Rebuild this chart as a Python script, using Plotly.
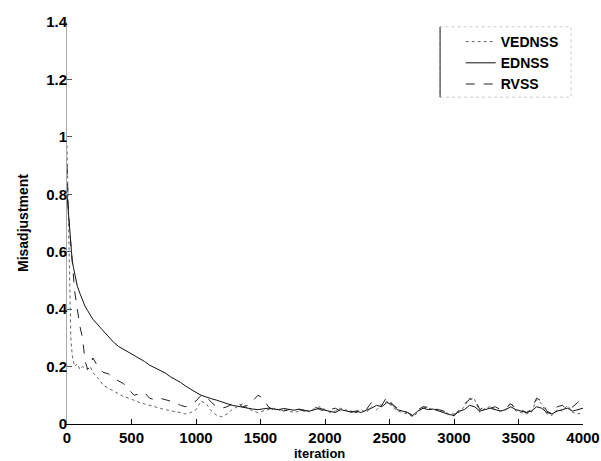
import plotly.graph_objects as go

# iteration index shared by all three learning curves
iterations = [0, 5, 10, 20, 30, 40, 50, 60, 80, 100, 120, 140, 160, 180,
              200, 240, 280, 320, 360, 400, 440, 480, 520, 560, 600, 640, 680, 720, 760, 800,
              840, 880, 920, 960, 1000, 1040, 1080, 1120, 1160, 1200, 1240, 1280, 1320, 1360,
              1400, 1440, 1480, 1520, 1560, 1600, 1640, 1680, 1720, 1760, 1800, 1840, 1880,
              1920, 1960, 2000, 2040, 2080, 2120, 2160, 2200, 2240, 2280, 2320, 2360, 2400,
              2440, 2480, 2520, 2560, 2600, 2640, 2680, 2720, 2760, 2800, 2840, 2880, 2920,
              2960, 3000, 3040, 3080, 3120, 3160, 3200, 3240, 3280, 3320, 3360, 3400, 3440,
              3480, 3520, 3560, 3600, 3640, 3680, 3720, 3760, 3800, 3840, 3880, 3920, 3960, 4000]

vednss = [0.97, 0.85, 0.70, 0.50, 0.30, 0.24, 0.22, 0.20, 0.21, 0.19, 0.20, 0.195, 0.19, 0.20,
          0.18, 0.16, 0.135, 0.125, 0.115, 0.105, 0.095, 0.09, 0.082, 0.075, 0.07, 0.065, 0.058,
          0.055, 0.05, 0.047, 0.042, 0.04, 0.035, 0.04, 0.05, 0.08, 0.07, 0.045, 0.03, 0.025,
          0.035, 0.05, 0.06, 0.07, 0.055, 0.045, 0.04, 0.045, 0.05, 0.055, 0.048, 0.05, 0.045,
          0.04, 0.045, 0.05, 0.042, 0.055, 0.06, 0.05, 0.04, 0.045, 0.055, 0.05, 0.04, 0.045,
          0.05, 0.04, 0.06, 0.05, 0.065, 0.08, 0.06, 0.045, 0.04, 0.035, 0.025, 0.04, 0.06,
          0.055, 0.05, 0.05, 0.045, 0.035, 0.035, 0.04, 0.06, 0.09, 0.085, 0.04, 0.055, 0.06,
          0.05, 0.045, 0.05, 0.075, 0.045, 0.04, 0.035, 0.04, 0.085, 0.07, 0.035, 0.03, 0.05,
          0.045, 0.065, 0.04, 0.035, 0.04]

ednss = [0.80, 0.77, 0.72, 0.66, 0.61, 0.57, 0.545, 0.52, 0.48, 0.455, 0.43, 0.41, 0.395, 0.38,
         0.365, 0.345, 0.325, 0.305, 0.285, 0.27, 0.26, 0.25, 0.24, 0.23, 0.218, 0.205, 0.196,
         0.188, 0.178, 0.165, 0.155, 0.145, 0.132, 0.12, 0.11, 0.10, 0.093, 0.088, 0.083,
         0.077, 0.07, 0.065, 0.062, 0.058, 0.055, 0.052, 0.05, 0.053, 0.055, 0.052, 0.05,
         0.054, 0.05, 0.048, 0.052, 0.047, 0.045, 0.05, 0.055, 0.048, 0.045, 0.04, 0.05,
         0.047, 0.042, 0.045, 0.04, 0.048, 0.055, 0.065, 0.06, 0.075, 0.068, 0.05, 0.045,
         0.04, 0.03, 0.045, 0.055, 0.05, 0.052, 0.045, 0.04, 0.033, 0.03, 0.045, 0.05, 0.065,
         0.06, 0.045, 0.05, 0.055, 0.05, 0.045, 0.05, 0.06, 0.05, 0.045, 0.04, 0.045, 0.06,
         0.055, 0.04, 0.035, 0.045, 0.05, 0.055, 0.045, 0.05, 0.055]

rvss = [0.90, 0.82, 0.76, 0.68, 0.62, 0.56, 0.50, 0.46, 0.40, 0.34, 0.30, 0.22, 0.19, 0.20,
        0.23, 0.20, 0.18, 0.175, 0.16, 0.15, 0.14, 0.12, 0.10, 0.105, 0.11, 0.09, 0.085, 0.09,
        0.085, 0.08, 0.075, 0.065, 0.06, 0.07, 0.08, 0.10, 0.095, 0.075, 0.06, 0.055, 0.06,
        0.07, 0.075, 0.06, 0.065, 0.08, 0.10, 0.09, 0.06, 0.05, 0.055, 0.045, 0.05, 0.055,
        0.05, 0.045, 0.05, 0.06, 0.05, 0.045, 0.05, 0.055, 0.045, 0.04, 0.045, 0.04, 0.045,
        0.05, 0.075, 0.07, 0.065, 0.095, 0.07, 0.055, 0.05, 0.04, 0.028, 0.05, 0.06, 0.058,
        0.055, 0.05, 0.045, 0.04, 0.028, 0.05, 0.07, 0.085, 0.09, 0.05, 0.06, 0.055, 0.06,
        0.05, 0.055, 0.07, 0.055, 0.05, 0.04, 0.05, 0.09, 0.08, 0.045, 0.035, 0.06, 0.065,
        0.05, 0.06, 0.075, 0.10]

y_ticks = [0, 0.2, 0.4, 0.6, 0.8, 1, 1.2, 1.4]
x_ticks = [0, 500, 1000, 1500, 2000, 2500, 3000, 3500, 4000]

FONT = "Liberation Sans, Arial, sans-serif"

fig = go.Figure()
fig.add_trace(go.Scatter(x=iterations, y=vednss, mode="lines", name="VEDNSS",
                         line=dict(color="#666666", width=1, dash="dot")))
fig.add_trace(go.Scatter(x=iterations, y=ednss, mode="lines", name="EDNSS",
                         line=dict(color="#111111", width=1)))
fig.add_trace(go.Scatter(x=iterations, y=rvss, mode="lines", name="RVSS",
                         line=dict(color="#222222", width=1, dash="dash")))

# legend frame: solid left edge, faint remaining sides
fig.add_shape(type="rect", xref="paper", yref="paper",
              x0=0.723, x1=0.977, y0=0.813, y1=0.988,
              line=dict(color="#cccccc", width=1, dash="dot"), layer="below")
fig.add_shape(type="line", xref="paper", yref="paper",
              x0=0.723, x1=0.723, y0=0.813, y1=0.988,
              line=dict(color="#222222", width=1))

# x-axis label under the tick labels
fig.add_annotation(text="<b>iteration</b>", xref="paper", yref="paper",
                   x=0.49, y=-0.073, xanchor="center", yanchor="middle",
                   showarrow=False, borderpad=0,
                   font=dict(family=FONT, size=13, color="black"))

fig.update_layout(
    width=601, height=461,
    margin=dict(l=67, r=18, t=22, b=37, autoexpand=False),
    paper_bgcolor="white", plot_bgcolor="white",
    font=dict(family=FONT, size=15, color="black"),
    showlegend=True,
    legend=dict(x=0.763, y=0.99, xanchor="left", yanchor="top",
                bgcolor="rgba(0,0,0,0)", borderwidth=0,
                font=dict(family=FONT, size=14, color="black", weight="bold"),
                tracegroupgap=0, itemwidth=30),
    xaxis=dict(range=[0, 4000], tickvals=x_ticks, ticks="inside", ticklen=5,
               tickcolor="black", showline=True, linecolor="black", linewidth=1,
               showgrid=False, zeroline=False, automargin=False,
               tickfont=dict(size=15, weight="bold")),
    yaxis=dict(range=[0, 1.4], tickvals=y_ticks, ticks="inside", ticklen=5,
               tickcolor="#555555", showline=True, linecolor="#aaaaaa", linewidth=1,
               showgrid=False, zeroline=False, automargin=False, ticklabelstandoff=-4,
               tickfont=dict(size=15, weight="bold"),
               title=dict(text="Misadjustment", font=dict(size=14, weight="bold"), standoff=14)),
)

fig.write_html("out.html")
